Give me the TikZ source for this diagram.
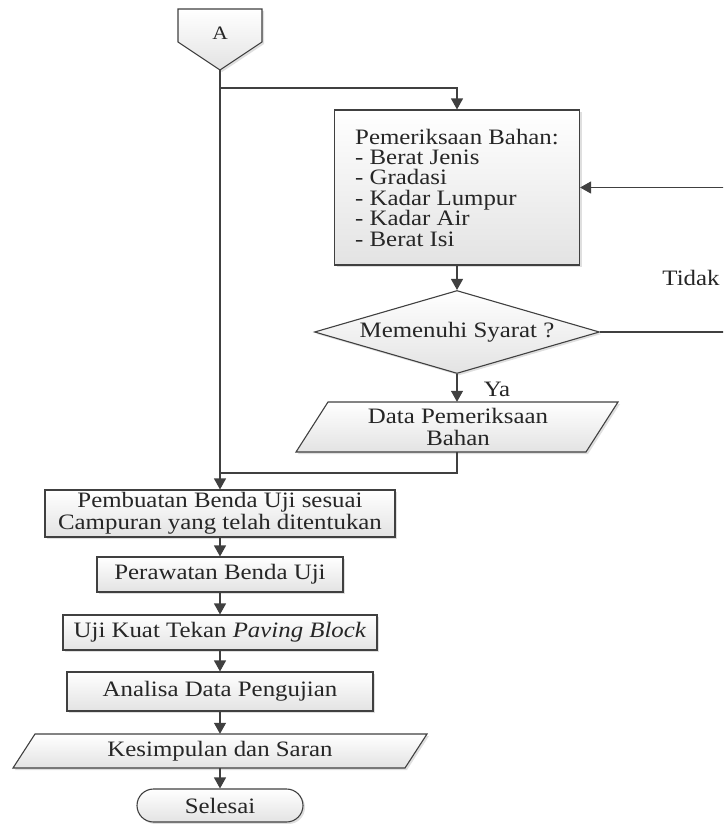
\documentclass[tikz,border=0pt]{standalone}
\usepackage{fontspec}
\setmainfont{Liberation Serif}[FakeStretch=1.13]
\usepackage{xcolor}
\definecolor{LineGray}{HTML}{404040}
\usepackage{tikz}
\usetikzlibrary{arrows.meta, shapes.geometric, shapes.misc, shadows}

\begin{document}
\begin{tikzpicture}[x=1pt,y=-1pt,
  every node/.style={font=\fontsize{22}{22}\selectfont, text=black!85},
  line/.style={LineGray, line width=1.2pt},
  arr/.style={line, -{Triangle[width=12pt,length=11pt]}},
  box/.style={draw=LineGray, line width=1.1pt, top color=white, bottom color=black!11,
    drop shadow={shadow xshift=2pt, shadow yshift=-2pt, opacity=.25}, inner sep=0pt},
  proc/.style={box, rectangle, align=center},
  txt/.style={rectangle, inner sep=0pt, align=center}]
  \useasboundingbox (0,0) rectangle (723,824);
  \clip (0,0) rectangle (723,824);
  \draw[box] (178,9) -- (262,9) -- (262,42) -- (220,70) -- (178,42) -- cycle;
  \draw[box] (328,402) -- (618,402) -- (586,452) -- (296,452) -- cycle;
  \draw[box] (35,734) -- (427,734) -- (405,768) -- (13,768) -- cycle;
  \node[font=\fontsize{19}{19}\selectfont] (A) at (220,33) {A};
  \coordinate (Atip) at (220,70);
  \coordinate (split) at (220,88);
  \coordinate (join) at (220,473);
  \coordinate (loop) at (740,332);
  \node[proc, align=left, font=\fontsize{22}{20.4}\selectfont, minimum width=245pt, minimum height=155pt]
    (periksa) at (457,187.5) {Pemeriksaan Bahan:\\- Berat Jenis\\- Gradasi\\- Kadar Lumpur\\- Kadar Air\\- Berat Isi};
  \node[box, diamond, aspect=3.43, minimum width=285pt, minimum height=83pt] (syarat) at (457,332) {Memenuhi Syarat ?};
  \node[txt, minimum height=50pt] (data) at (458,427) {Data Pemeriksaan\\Bahan};
  \node[proc, minimum width=350pt, minimum height=47pt] (buat) at (220,513.5) {Pembuatan Benda Uji sesuai\\Campuran yang telah ditentukan};
  \node[proc, minimum width=246pt, minimum height=35pt] (rawat) at (220,574.5) {Perawatan Benda Uji};
  \node[proc, minimum width=314pt, minimum height=35pt] (uji) at (220,632.5) {Uji Kuat Tekan \textit{Paving Block}};
  \node[proc, minimum width=306pt, minimum height=39pt] (analisa) at (220,691.5) {Analisa Data Pengujian};
  \node[txt, minimum height=34pt] (simpul) at (220,751) {Kesimpulan dan Saran};
  \node[box, rounded rectangle, minimum width=166pt, minimum height=33pt] (selesai) at (220,805.5) {Selesai};
  \node (ya) at (497,389) {Ya};
  \node (tidak) at (691,278) {Tidak};
  \draw[arr] (Atip) -- (buat.north);
  \draw[arr] (split) -| (periksa.north);
  \draw[arr] (periksa.south) -- (syarat.north);
  \draw[arr] (syarat.south) -- (syarat.south |- data.north);
  \draw[line] (syarat.south |- data.south) |- (join);
  \draw[arr] (syarat.east) -- (loop) |- (periksa.east);
  \draw[arr] (buat.south) -- (rawat.north);
  \draw[arr] (rawat.south) -- (uji.north);
  \draw[arr] (uji.south) -- (analisa.north);
  \draw[arr] (analisa.south) -- (simpul.north);
  \draw[arr] (simpul.south) -- (selesai.north);
\end{tikzpicture}
\end{document}
